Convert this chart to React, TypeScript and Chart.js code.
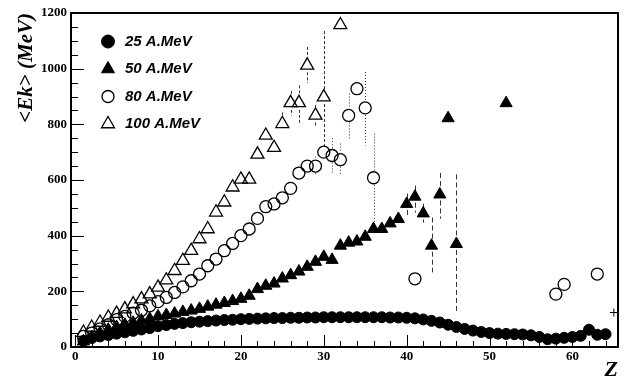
import React, { useEffect, useRef } from 'react';
import { Chart, registerables } from 'chart.js';
import { drawPoint } from 'chart.js/helpers';

Chart.register(...registerables);

// ---------- data ----------
const z25 = [1,2,3,4,5,6,7,8,9,10,11,12,13,14,15,16,17,18,19,20,21,22,23,24,25,26,27,28,29,30,31,32,33,34,35,36,37,38,39,40,41,42,43,44,45,46,47,48,49,50,51,52,53,54,55,56,57,58,59,60,61,62,63,64];
const ek25 = [22,32,38,43,48,53,58,63,68,75,79,83,86,89,91,93,95,97,98,100,101,102,103,104,104,105,105,106,106,107,107,107,107,107,107,107,107,106,106,105,103,99,94,88,80,72,65,59,54,50,48,47,46,45,42,36,28,30,33,36,40,62,44,46];

const z50 = [1,2,3,4,5,6,7,8,9,10,11,12,13,14,15,16,17,18,19,20,21,22,23,24,25,26,27,28,29,30,31,32,33,34,35,36,37,38,39,40,41,42,43,44,45,46,52];
const ek50 = [20,35,50,62,72,80,87,95,101,110,115,120,126,131,137,145,152,158,165,173,184,208,220,228,246,258,271,288,306,324,313,364,375,379,396,424,424,444,460,514,540,480,364,548,822,370,876];

const z80 = [1,2,3,4,5,6,7,8,9,10,11,12,13,14,15,16,17,18,19,20,21,22,23,24,25,26,27,28,29,30,31,32,33,34,35,36,41,58,59,63];
const ek80 = [38,50,65,80,98,110,122,132,148,163,178,196,216,238,262,292,316,346,372,400,424,462,504,514,536,570,625,650,650,700,688,673,832,928,859,608,245,190,225,262];

const z100 = [1,2,3,4,5,6,7,8,9,10,11,12,13,14,15,16,17,18,19,20,21,22,23,24,25,26,27,28,29,30,32];
const ek100 = [52,70,88,106,120,136,154,172,190,214,240,274,310,346,388,424,484,520,574,602,602,692,760,716,802,877,877,1012,832,898,1157];

const zExtra = [65];
const ekExtra = [124];

// error bars (low / high edges)
const err50Z = [40,41,42,43,44,46];
const err50Lo = [465,483,447,268,461,119];
const err50Hi = [551,580,515,465,625,620];

const err80Z = [29,31,32,33,35,36];
const err80Lo = [616,623,616,750,724,443];
const err80Hi = [684,750,731,911,988,767];

const err100Z = [25,26,27,28,29,30];
const err100Lo = [778,832,803,948,790,715];
const err100Hi = [843,920,940,1078,870,1135];

const seriesLabels = ['25 A.MeV', '50 A.MeV', '80 A.MeV', '100 A.MeV'];
const xTicks = [0,10,20,30,40,50,60];
const yTicks = [0,200,400,600,800,1000,1200];

const pts = (xs: number[], ys: number[]) => xs.map((x, i) => ({ x, y: ys[i] }));

const errorBarPlugin = {
  id: 'errbars',
  beforeDatasetsDraw(chart: any, _a: any, opts: any) {
    const { ctx, scales } = chart;
    const x = scales.x, y = scales.y;
    ctx.save();
    ctx.strokeStyle = '#333';
    ctx.lineWidth = 1;
    for (const s of opts.sets) {
      ctx.setLineDash(s.dash);
      s.zs.forEach((z: number, i: number) => {
        const idx = s.seriesZ.indexOf(z);
        const px = Math.round(x.getPixelForValue(z)) + 0.5;
        const pv = y.getPixelForValue(s.seriesV[idx]);
        const pl = y.getPixelForValue(s.lo[i]);
        const ph = y.getPixelForValue(s.hi[i]);
        ctx.beginPath();
        if (ph < pv - s.r) { ctx.moveTo(px, ph); ctx.lineTo(px, pv - s.r); }
        if (pl > pv + s.r) { ctx.moveTo(px, pv + s.r); ctx.lineTo(px, pl); }
        ctx.stroke();
      });
    }
    ctx.restore();
  },
};

const framePlugin = {
  id: 'frame',
  afterDraw(chart: any, _a: any, opts: any) {
    const { ctx, chartArea: a, scales } = chart;
    const x = scales.x, y = scales.y;
    ctx.save();
    ctx.strokeStyle = '#000';
    ctx.lineWidth = 1;
    ctx.beginPath();
    for (let v = 0; v <= x.max; v += opts.xMinor) {
      const px = Math.round(x.getPixelForValue(v)) + 0.5;
      const len = v % opts.xMajor === 0 ? 12 : 6;
      ctx.moveTo(px, a.bottom);
      ctx.lineTo(px, a.bottom - len);
    }
    for (let v = 0; v <= y.max; v += opts.yMinor) {
      const py = Math.round(y.getPixelForValue(v)) + 0.5;
      const len = v % opts.yMajor === 0 ? 13 : 7;
      ctx.moveTo(a.left, py);
      ctx.lineTo(a.left + len, py);
    }
    ctx.stroke();
    ctx.lineWidth = 2;
    ctx.strokeRect(a.left, a.top, a.right - a.left, a.bottom - a.top);
    ctx.restore();
  },
};

const legendPlugin = {
  id: 'innerLegend',
  afterDraw(chart: any, _a: any, opts: any) {
    const { ctx, chartArea: a } = chart;
    ctx.save();
    opts.items.forEach((it: any, i: number) => {
      const ds = chart.data.datasets[it.ds];
      const cy = a.top + opts.top + i * opts.step;
      const cx = a.left + opts.markerX;
      ctx.fillStyle = ds.backgroundColor;
      ctx.strokeStyle = ds.borderColor;
      ctx.lineWidth = ds.borderWidth;
      drawPoint(ctx, { pointStyle: ds.pointStyle, radius: it.r, rotation: 0, borderWidth: ds.borderWidth }, cx, cy);
      ctx.fillStyle = '#000';
      ctx.font = 'italic bold 15px "Liberation Sans"';
      ctx.textBaseline = 'middle';
      ctx.textAlign = 'left';
      ctx.fillText(seriesLabels[it.ds], a.left + opts.textX, cy);
    });
    ctx.restore();
  },
};

export default function App() {
  const ref = useRef<HTMLCanvasElement>(null);
  useEffect(() => {
    const chart = new Chart(ref.current as HTMLCanvasElement, {
      type: 'scatter',
      data: {
        datasets: [
          { label: seriesLabels[0], data: pts(z25, ek25), pointStyle: 'circle', pointRadius: 5.5, backgroundColor: '#000', borderColor: '#000', borderWidth: 1 },
          { label: seriesLabels[1], data: pts(z50, ek50), pointStyle: 'triangle', pointRadius: 7, backgroundColor: '#000', borderColor: '#000', borderWidth: 1 },
          { label: seriesLabels[2], data: pts(z80, ek80), pointStyle: 'circle', pointRadius: 6, backgroundColor: 'rgba(0,0,0,0)', borderColor: '#000', borderWidth: 1.3 },
          { label: seriesLabels[3], data: pts(z100, ek100), pointStyle: 'triangle', pointRadius: 7.5, backgroundColor: 'rgba(0,0,0,0)', borderColor: '#000', borderWidth: 1.3 },
          { label: 'extra', data: pts(zExtra, ekExtra), pointStyle: 'cross', pointRadius: 4, backgroundColor: '#000', borderColor: '#000', borderWidth: 1 },
        ] as any,
      },
      options: {
        responsive: false,
        animation: false,
        devicePixelRatio: 1,
        events: [],
        layout: { padding: { left: 0, right: 13, top: 13, bottom: 0 } },
        scales: {
          x: {
            type: 'linear',
            min: -0.5,
            max: 65.5,
            afterBuildTicks: (s: any) => { s.ticks = xTicks.map((v) => ({ value: v })); },
            afterFit: (s: any) => { s.height = 32; },
            grid: { display: false, drawTicks: false },
            border: { display: false },
            ticks: { color: '#000', padding: 2, maxRotation: 0, font: { family: 'Liberation Serif', weight: 'bold', size: 13 }, callback: (v: any) => String(v) },
            title: { display: true, text: 'Z', align: 'end', color: '#000', padding: 0, font: { family: 'Liberation Serif', style: 'italic', weight: 'bold', size: 22, lineHeight: 0.8 } },
          },
          y: {
            type: 'linear',
            min: 0,
            max: 1200,
            afterBuildTicks: (s: any) => { s.ticks = yTicks.map((v) => ({ value: v })); },
            afterFit: (s: any) => { s.width = 71; },
            grid: { display: false, drawTicks: false },
            border: { display: false },
            ticks: { color: '#000', padding: 4, font: { family: 'Liberation Serif', weight: 'bold', size: 13 }, callback: (v: any) => String(v) },
            title: { display: true, text: '<Ek> (MeV)', align: 'end', color: '#000', padding: { top: 14, bottom: 0 }, font: { family: 'Liberation Serif', style: 'italic', weight: 'bold', size: 21 } },
          },
        },
        plugins: {
          legend: { display: false },
          tooltip: { enabled: false },
          errbars: {
            sets: [
              { zs: err50Z, lo: err50Lo, hi: err50Hi, seriesZ: z50, seriesV: ek50, dash: [5, 3], r: 6 },
              { zs: err80Z, lo: err80Lo, hi: err80Hi, seriesZ: z80, seriesV: ek80, dash: [1, 2], r: 7 },
              { zs: err100Z, lo: err100Lo, hi: err100Hi, seriesZ: z100, seriesV: ek100, dash: [3, 2], r: 7 },
            ],
          },
          frame: { xMinor: 2, xMajor: 10, yMinor: 50, yMajor: 200 },
          innerLegend: {
            top: 28.5, step: 27.5, markerX: 37, textX: 54,
            items: [ { ds: 0, r: 6.5 }, { ds: 1, r: 7.5 }, { ds: 2, r: 6 }, { ds: 3, r: 7.5 } ],
          },
        } as any,
      },
      plugins: [errorBarPlugin, framePlugin, legendPlugin],
    });
    return () => chart.destroy();
  }, []);
  return (
    <div style={{ position: 'fixed', left: 0, top: 0, width: 631, height: 379, background: '#fff' }}>
      <canvas ref={ref} width={631} height={379} style={{ display: 'block', width: 631, height: 379 }} />
    </div>
  );
}
